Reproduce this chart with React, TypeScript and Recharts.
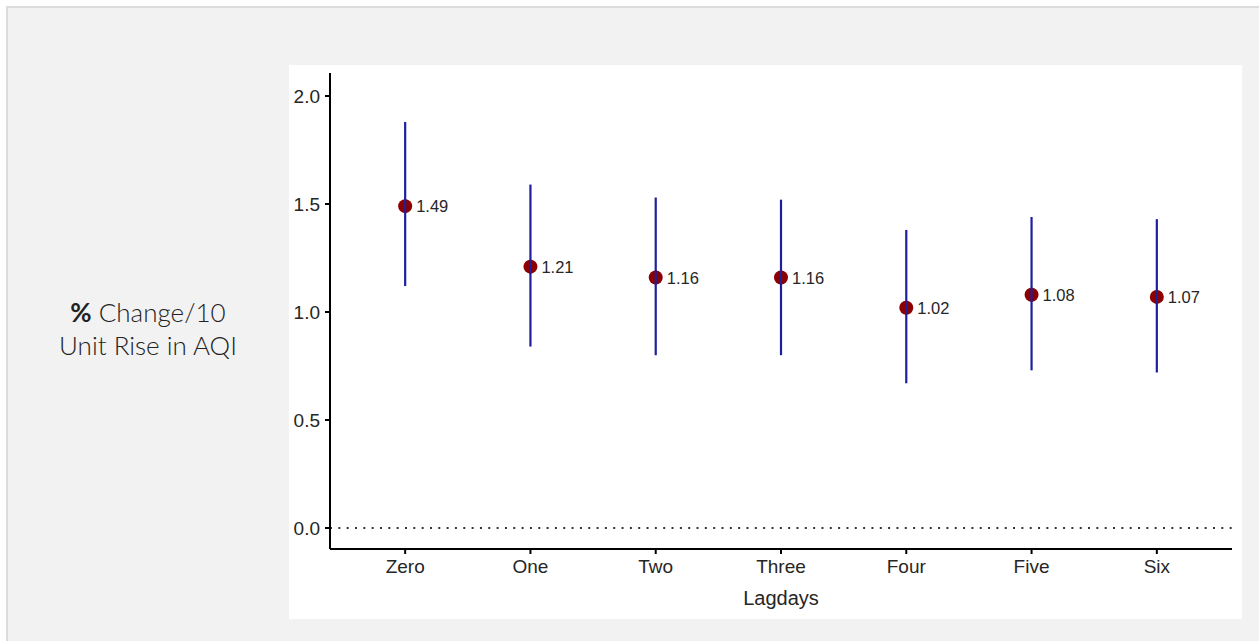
import React from 'react';
import { ComposedChart, Scatter, XAxis, YAxis, ErrorBar, ReferenceLine } from 'recharts';

const categories = ['Zero', 'One', 'Two', 'Three', 'Four', 'Five', 'Six'];
const estimates = [1.49, 1.21, 1.16, 1.16, 1.02, 1.08, 1.07];
const lower = [1.12, 0.84, 0.8, 0.8, 0.67, 0.73, 0.72];
const upper = [1.88, 1.59, 1.53, 1.52, 1.38, 1.44, 1.43];
const yTicks = [0, 0.5, 1.0, 1.5, 2.0];
const xTicks = categories.map((_, i) => i);

const data = categories.map((name, i) => ({
  idx: i,
  name,
  est: estimates[i],
  err: [estimates[i] - lower[i], upper[i] - estimates[i]],
}));

const TEXT = '#262626';
const FONT = '"Liberation Sans", Arial, sans-serif';
const BAR = '#1e1e9e';

const DotShape = (p: any) => (
  <g>
    <circle cx={p.cx} cy={p.cy} r={7} fill="#8B0000" />
    <line x1={p.cx} x2={p.cx} y1={p.cy - 7} y2={p.cy + 7} stroke={BAR} strokeWidth={2.2} />
    <text
      x={p.cx + 11}
      y={p.cy}
      dy="0.38em"
      fontSize={16.5}
      fontFamily={FONT}
      fill={TEXT}
      textAnchor="start"
    >
      {p.payload.est.toFixed(2)}
    </text>
  </g>
);

const EmptyShape = () => <g />;

export default function App() {
  return (
    <div>
      <div
        style={{
          position: 'fixed',
          left: 6,
          top: 6,
          width: 1270,
          height: 650,
          boxSizing: 'border-box',
          border: '2px solid #dcdcdc',
          background: '#f2f2f2',
        }}
      />
      <div
        style={{
          position: 'fixed',
          left: 40,
          top: 296,
          width: 216,
          textAlign: 'center',
          fontFamily: 'Lato, sans-serif',
          fontWeight: 300,
          fontSize: 26,
          lineHeight: '33px',
          color: '#222',
          whiteSpace: 'nowrap',
        }}
      >
        <div>
          <span style={{ fontWeight: 700 }}>%</span> Change/10
        </div>
        <div>Unit Rise in AQI</div>
      </div>
      <div
        style={{
          position: 'fixed',
          left: 289,
          top: 65,
          width: 953,
          height: 554,
          background: '#ffffff',
        }}
      >
        <ComposedChart
          width={953}
          height={554}
          data={data}
          margin={{ top: 8, right: 10, left: 0, bottom: 0 }}
        >
          <XAxis
            type="number"
            dataKey="idx"
            domain={[-0.6, 6.6]}
            ticks={xTicks}
            tickFormatter={(v: number) => categories[v]}
            height={70}
            tickSize={5}
            tickMargin={6}
            axisLine={{ stroke: '#000', strokeWidth: 2 }}
            tickLine={{ stroke: '#000', strokeWidth: 2 }}
            tick={{ fontSize: 19, fill: TEXT, fontFamily: FONT }}
            interval={0}
            label={{
              value: 'Lagdays',
              position: 'insideBottom',
              offset: 14,
              fontSize: 20,
              fill: TEXT,
              fontFamily: FONT,
            }}
          />
          <YAxis
            type="number"
            domain={[-0.0972, 2.1065]}
            ticks={yTicks}
            tickFormatter={(v: number) => v.toFixed(1)}
            width={41}
            tickSize={5}
            tickMargin={5}
            axisLine={{ stroke: '#000', strokeWidth: 2 }}
            tickLine={{ stroke: '#000', strokeWidth: 2 }}
            tick={{ fontSize: 19, fill: TEXT, fontFamily: FONT }}
            interval={0}
          />
          <ReferenceLine
            y={0}
            stroke="#333"
            strokeWidth={2}
            strokeDasharray="2 6.33"
            ifOverflow="extendDomain"
          />
          <Scatter dataKey="est" shape={EmptyShape} isAnimationActive={false}>
            <ErrorBar
              dataKey="err"
              direction="y"
              width={0}
              stroke={BAR}
              strokeWidth={2.2}
              isAnimationActive={false}
            />
          </Scatter>
          <Scatter dataKey="est" shape={DotShape} isAnimationActive={false} />
        </ComposedChart>
      </div>
    </div>
  );
}
